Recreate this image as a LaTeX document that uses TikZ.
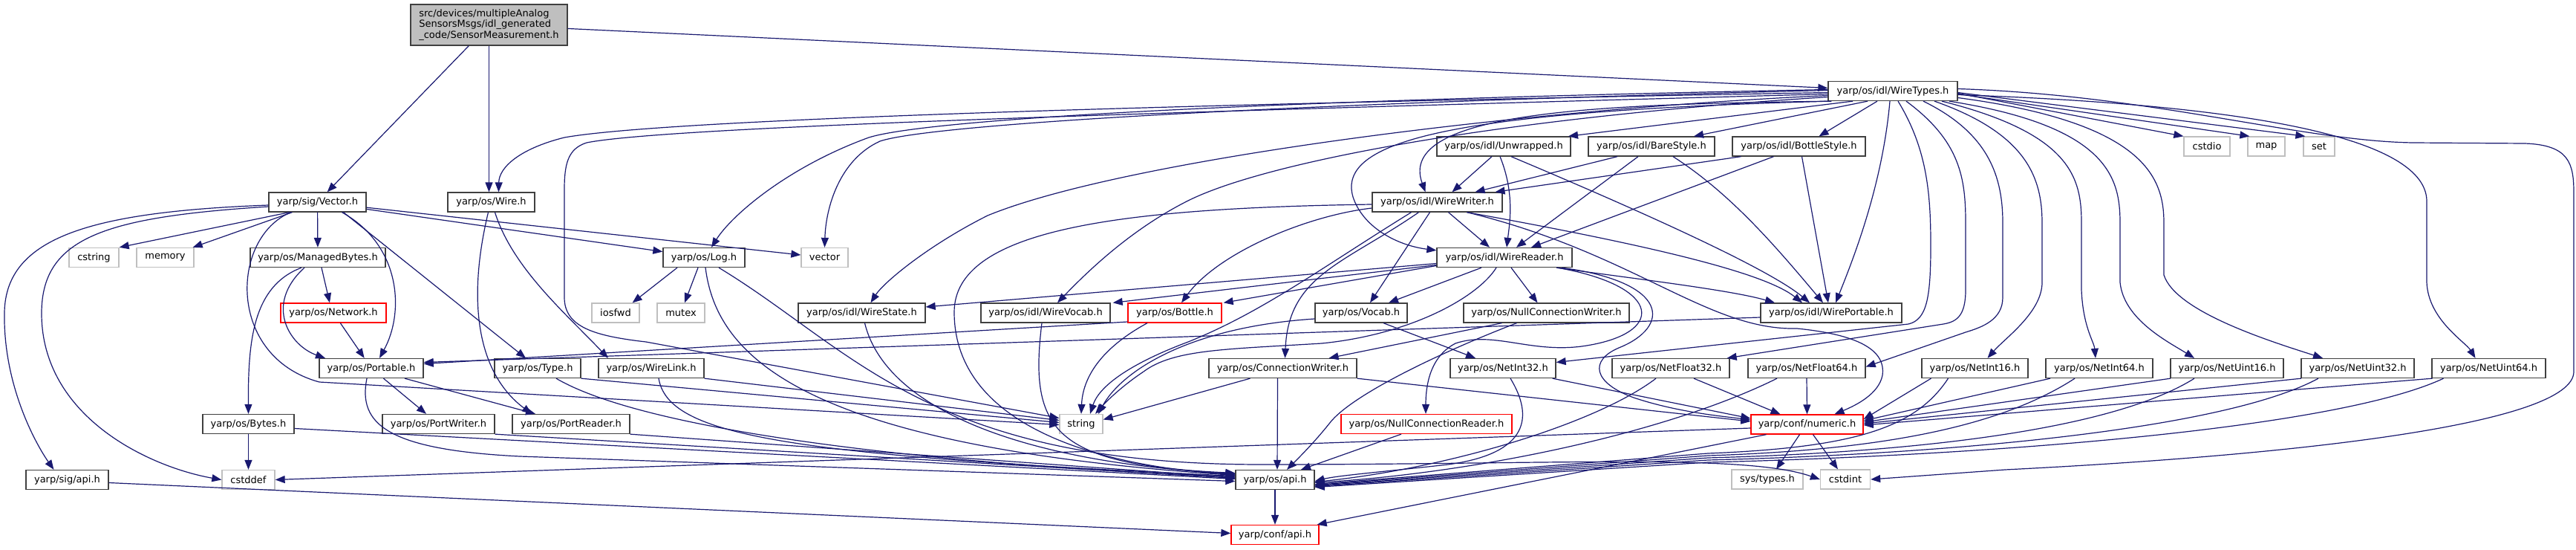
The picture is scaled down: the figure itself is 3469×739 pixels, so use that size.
\documentclass[tikz,border=0pt]{standalone}
\usepackage{fontspec}
\setmainfont{DejaVu Sans}
\usetikzlibrary{arrows.meta}
\definecolor{edgec}{HTML}{191970}
\definecolor{nbord}{HTML}{404040}
\definecolor{gbord}{HTML}{BFBFBF}
\definecolor{rbord}{HTML}{FF0000}
\definecolor{mainfill}{HTML}{BFBFBF}
\newcommand{\gvfont}{\fontsize{13}{14.5}\selectfont}
\begin{document}
\begin{tikzpicture}[x=1pt,y=-1pt,
  nb/.style={draw=nbord, line width=1.3pt, fill=white, minimum height=26pt, inner sep=0pt, font=\gvfont},
  ng/.style={nb, draw=gbord},
  nr/.style={nb, draw=rbord},
  dep/.style={draw=edgec, line width=1.2pt, -{Triangle[length=13pt,width=10pt]}}]
\fill[white] (0,0) rectangle (3469,739);
\useasboundingbox (0,0) rectangle (3469,739);

% ---------- nodes ----------
\node[nb, fill=mainfill, minimum width=211pt, minimum height=55pt, align=left] (main) at (658.5,33.5)
  {src/devices/multipleAnalog\\SensorsMsgs/idl\_generated\\\_code/SensorMeasurement.h};
\node[nb, minimum width=131pt] (vec) at (427.5,272) {yarp/sig/Vector.h};
\node[nb, minimum width=117pt] (wire) at (661.5,272) {yarp/os/Wire.h};
\node[ng, minimum width=67pt] (cstring) at (126.5,346.5) {cstring};
\node[ng, minimum width=77pt] (memory) at (222.5,346.5) {memory};
\node[nb, minimum width=182pt] (mbytes) at (428,346.5) {yarp/os/ManagedBytes.h};
\node[nb, minimum width=110pt] (log) at (948,346.5) {yarp/os/Log.h};
\node[ng, minimum width=63pt] (vector) at (1110.5,346.5) {vector};
\node[nb, minimum width=174pt] (wtypes) at (2549,122.5) {yarp/os/idl/WireTypes.h};
\node[nb, minimum width=180pt] (unwr) at (2025,197) {yarp/os/idl/Unwrapped.h};
\node[nb, minimum width=170pt] (bare) at (2224,197) {yarp/os/idl/BareStyle.h};
\node[nb, minimum width=179pt] (bstyle) at (2422.5,197) {yarp/os/idl/BottleStyle.h};
\node[ng, minimum width=62pt] (cstdio) at (2972,197) {cstdio};
\node[ng, minimum width=50pt] (map) at (3052,197) {map};
\node[ng, minimum width=42pt] (set) at (3123,197) {set};
\node[nb, minimum width=175pt] (wwriter) at (1935.5,272) {yarp/os/idl/WireWriter.h};
\node[nb, minimum width=182pt] (wreader) at (2026,346.5) {yarp/os/idl/WireReader.h};
\node[nr, minimum width=142pt] (network) at (449,421) {yarp/os/Network.h};
\node[ng, minimum width=64pt] (iosfwd) at (829,421) {iosfwd};
\node[ng, minimum width=64pt] (mutex) at (917,421) {mutex};
\node[nb, minimum width=171pt] (wstate) at (1160.5,421) {yarp/os/idl/WireState.h};
\node[nb, minimum width=174pt] (wvocab) at (1408,421) {yarp/os/idl/WireVocab.h};
\node[nr, minimum width=126pt] (bottle) at (1582,421) {yarp/os/Bottle.h};
\node[nb, minimum width=124pt] (vocab) at (1833,421) {yarp/os/Vocab.h};
\node[nb, minimum width=223pt] (ncw) at (2082.5,421) {yarp/os/NullConnectionWriter.h};
\node[nb, minimum width=190pt] (wport) at (2466,421) {yarp/os/idl/WirePortable.h};
\node[nb, minimum width=140pt] (portable) at (500,495.5) {yarp/os/Portable.h};
\node[nb, minimum width=116pt] (type) at (724,495.5) {yarp/os/Type.h};
\node[nb, minimum width=142pt] (wlink) at (877,495.5) {yarp/os/WireLink.h};
\node[nb, minimum width=199pt] (cwriter) at (1727.5,495.5) {yarp/os/ConnectionWriter.h};
\node[nb, minimum width=142pt] (ni32) at (2024,495.5) {yarp/os/NetInt32.h};
\node[nb, minimum width=158pt] (nf32) at (2250,495.5) {yarp/os/NetFloat32.h};
\node[nb, minimum width=158pt] (nf64) at (2433,495.5) {yarp/os/NetFloat64.h};
\node[nb, minimum width=143pt] (ni16) at (2659.5,495.5) {yarp/os/NetInt16.h};
\node[nb, minimum width=144pt] (ni64) at (2827,495.5) {yarp/os/NetInt64.h};
\node[nb, minimum width=152pt] (nu16) at (2999,495.5) {yarp/os/NetUint16.h};
\node[nb, minimum width=152pt] (nu32) at (3175,495.5) {yarp/os/NetUint32.h};
\node[nb, minimum width=153pt] (nu64) at (3351.5,495.5) {yarp/os/NetUint64.h};
\node[nb, minimum width=123pt] (bytes) at (334.5,570.5) {yarp/os/Bytes.h};
\node[nb, minimum width=151pt] (pwriter) at (590.5,570.5) {yarp/os/PortWriter.h};
\node[nb, minimum width=158pt] (preader) at (769,570.5) {yarp/os/PortReader.h};
\node[ng, minimum width=58pt] (string) at (1456,570.5) {string};
\node[nr, minimum width=230pt] (ncr) at (1921,570.5) {yarp/os/NullConnectionReader.h};
\node[nr, minimum width=151pt] (numeric) at (2433.5,571) {yarp/conf/numeric.h};
\node[nb, minimum width=111pt] (sigapi) at (90.5,645.5) {yarp/sig/api.h};
\node[ng, minimum width=71pt] (cstddef) at (334.5,645.5) {cstddef};
\node[nb, minimum width=106pt] (osapi) at (1717,645.5) {yarp/os/api.h};
\node[ng, minimum width=96pt] (systypes) at (2380,645) {sys/types.h};
\node[ng, minimum width=67pt] (cstdint) at (2485,645) {cstdint};
\node[nr, minimum width=118pt] (confapi) at (1717,719.5) {yarp/conf/api.h};

% ---------- main ----------
\draw[dep] (main) -- (vec);
\draw[dep] (main.south) -- ([xshift=-3pt]wire.north);
\draw[dep] (main) -- (wtypes);

% ---------- Vector.h ----------
\draw[dep] ([xshift=-38pt]vec.south) -- (cstring.north east);
\draw[dep] ([xshift=-34pt]vec.south) -- ([xshift=-2pt]memory.north east);
\draw[dep] (vec) -- (mbytes);
\draw[dep] (vec) -- (log);
\draw[dep] (vec) -- (vector);
\draw[dep] ([yshift=-4pt]vec.west) .. controls (120,285) and (8,320) .. (6,420) .. controls (4,520) and (50,600) .. ([xshift=-18pt]sigapi.north);
\draw[dep] ([yshift=-6pt]vec.west) .. controls (140,292) and (57,320) .. (56,420) .. controls (55,560) and (200,628) .. (cstddef.west);
\draw[dep] ([xshift=-36pt]vec.south) .. controls (310,320) and (305,480) .. (430,514) -- ([yshift=-1pt]string.west);
\draw[dep] ([xshift=33pt]vec.south) .. controls (540,330) and (545,420) .. ([xshift=11pt]portable.north);
\draw[dep] ([xshift=35pt]vec.south) -- ([xshift=-16pt]type.north);

% ---------- Wire.h ----------
\draw[dep] ([xshift=-4pt]wire.south) .. controls (630,400) and (640,500) .. ([xshift=-53pt]preader.north);
\draw[dep] ([xshift=5pt]wire.south) .. controls (690,360) and (760,420) .. ([xshift=-58pt]wlink.north);

% ---------- ManagedBytes / Network ----------
\draw[dep] ([xshift=-22pt]mbytes.south) .. controls (340,385) and (334,460) .. (bytes.north);
\draw[dep] ([xshift=-18pt]mbytes.south) .. controls (355,410) and (390,465) .. ([xshift=-62pt]portable.north);
\draw[dep] ([xshift=5pt]mbytes.south) -- ([xshift=-5pt]network.north);
\draw[dep] (network) -- (portable);

% ---------- Portable / Bytes / Port* ----------
\draw[dep] (portable) -- (pwriter);
\draw[dep] ([xshift=45pt]portable.south) -- ([xshift=-48pt]preader.north);
\draw[dep] ([xshift=-6pt]portable.south) .. controls (482,570) and (520,605) .. (700,614) -- ([yshift=-2pt]osapi.west);
\draw[dep] (bytes) -- (cstddef);
\draw[dep] ([yshift=-6pt]bytes.east) -- ([yshift=1pt]osapi.west);
\draw[dep] (pwriter.south east) -- ([yshift=2pt]osapi.west);
\draw[dep] (preader.south east) -- ([yshift=3pt]osapi.west);

% ---------- Type / WireLink ----------
\draw[dep] (type.south east) -- ([yshift=2pt]string.west);
\draw[dep] ([xshift=25pt]type.south) .. controls (870,580) and (1250,625) .. ([yshift=4pt]osapi.west);
\draw[dep] (wlink.south east) -- ([yshift=5pt]string.west);
\draw[dep] ([xshift=10pt]wlink.south) .. controls (900,585) and (1050,612) .. ([yshift=5pt]osapi.west);

% ---------- Log.h ----------
\draw[dep] ([xshift=-36pt]log.south) -- ([xshift=-10pt]iosfwd.north east);
\draw[dep] ([xshift=-8pt]log.south) -- ([xshift=5pt]mutex.north);
\draw[dep] ([xshift=2pt]log.south) .. controls (965,480) and (1080,600) .. ([yshift=6pt]osapi.west);
\draw[dep] ([xshift=20pt]log.south) .. controls (1150,470) and (1250,625) .. (1700,625) .. controls (2100,625) and (2350,610) .. (cstdint.west);

% ---------- WireTypes.h ----------
\draw[dep] ([yshift=-2pt]wtypes.west) .. controls (1600,140) and (900,160) .. (760,185) .. controls (700,200) and (672,225) .. ([xshift=10pt]wire.north);
\draw[dep] ([yshift=-4pt]wtypes.west) .. controls (1600,150) and (900,170) .. (790,192) .. controls (765,200) and (760,220) .. (760,255) -- (760,400) .. controls (760,440) and (800,452) .. (870,460) -- ([yshift=8pt]string.west);
\draw[dep] ([yshift=2pt]wtypes.west) .. controls (1700,135) and (1250,160) .. (1170,185) .. controls (1060,225) and (985,290) .. ([xshift=10pt]log.north);
\draw[dep] ([yshift=1pt]wtypes.west) .. controls (1700,140) and (1250,168) .. (1185,190) .. controls (1130,215) and (1112,280) .. (vector.north);
\draw[dep] ([yshift=-6pt]wtypes.west) .. controls (2000,150) and (1500,220) .. (1330,290) .. controls (1250,330) and (1190,380) .. ([xshift=12pt]wstate.north);
\draw[dep] ([yshift=-8pt]wtypes.west) .. controls (2000,160) and (1700,220) .. (1600,270) .. controls (1520,310) and (1460,370) .. ([xshift=16pt]wvocab.north);
\draw[dep] ([xshift=5pt]wtypes.south west) .. controls (2150,140) and (1880,150) .. ([xshift=-16pt]wwriter.north);
\draw[dep] ([xshift=2pt]wtypes.south west) .. controls (1950,150) and (1800,190) .. (1822,265) .. controls (1835,305) and (1880,330) .. ([yshift=-4pt]wreader.north west);
\draw[dep] ([xshift=-54pt]wtypes.south) -- ([xshift=87pt]unwr.north);
\draw[dep] ([xshift=-34pt]wtypes.south) -- ([xshift=57pt]bare.north);
\draw[dep] ([xshift=-21pt]wtypes.south) -- ([xshift=27pt]bstyle.north);
\draw[dep] ([xshift=-4pt]wtypes.south) .. controls (2535,250) and (2495,350) .. ([xshift=6pt]wport.north);
\draw[dep] ([yshift=-3pt]wtypes.east) -- (cstdio.north west);
\draw[dep] ([yshift=-4pt]wtypes.east) -- ([xshift=3pt]map.north west);
\draw[dep] ([yshift=-2pt]wtypes.east) -- ([xshift=3pt]set.north west);
\draw[dep] ([xshift=7pt]wtypes.south) .. controls (2595,200) and (2600,260) .. (2600,330) .. controls (2600,400) and (2595,430) .. (2570,436) -- ([yshift=8pt]ni32.east);
\draw[dep] ([xshift=18pt]wtypes.south) .. controls (2640,190) and (2647,240) .. (2647,300) -- (2647,390) .. controls (2647,425) and (2635,433) .. (2617,436) -- ([xshift=-4pt]nf32.north east);
\draw[dep] ([xshift=41pt]wtypes.south) .. controls (2680,180) and (2697,240) .. (2697,300) -- (2697,400) .. controls (2697,430) and (2670,440) .. (2647,447) -- ([yshift=2pt]nf64.east);
\draw[dep] ([xshift=56pt]wtypes.south) .. controls (2730,180) and (2750,240) .. (2750,300) -- (2750,380) .. controls (2750,420) and (2700,455) .. ([xshift=17pt]ni16.north);
\draw[dep] ([xshift=66pt]wtypes.south) .. controls (2790,180) and (2803,240) .. (2803,300) -- (2803,390) .. controls (2805,440) and (2820,460) .. ([xshift=-5pt]ni64.north);
\draw[dep] ([xshift=76pt]wtypes.south) .. controls (2840,170) and (2855,240) .. (2855,300) -- (2855,380) .. controls (2860,430) and (2920,460) .. ([xshift=-44pt]nu16.north);
\draw[dep] ([yshift=-9pt]wtypes.east) .. controls (2890,165) and (2914,240) .. (2914,300) -- (2914,370) .. controls (2930,420) and (3060,460) .. ([xshift=-47pt]nu32.north);
\draw[dep] ([yshift=-5pt]wtypes.east) .. controls (3000,140) and (3266,180) .. (3268,270) -- (3268,380) .. controls (3270,430) and (3320,460) .. ([xshift=-18pt]nu64.north);
\draw[dep] ([yshift=3pt]wtypes.east) .. controls (2900,128) and (3100,190) .. (3250,192) -- (3400,193) .. controls (3460,195) and (3466,220) .. (3466,260) -- (3466,500) .. controls (3466,570) and (3100,612) .. (2700,632) -- (cstdint.east);

% ---------- Unwrapped / BareStyle / BottleStyle ----------
\draw[dep] ([xshift=-16pt]unwr.south) -- ([xshift=20pt]wwriter.north);
\draw[dep] ([xshift=-5pt]unwr.south) .. controls (2040,260) and (2033,300) .. ([xshift=3pt]wreader.north);
\draw[dep] ([xshift=10pt]unwr.south) .. controls (2200,280) and (2380,360) .. ([xshift=-29pt]wport.north);
\draw[dep] ([xshift=-46pt]bare.south) -- ([xshift=51pt]wwriter.north);
\draw[dep] ([xshift=-18pt]bare.south) -- ([xshift=16pt]wreader.north);
\draw[dep] ([xshift=29pt]bare.south) .. controls (2330,260) and (2390,330) .. ([xshift=-11pt]wport.north);
\draw[dep] ([xshift=-78pt]bstyle.south) -- ([xshift=78pt]wwriter.north);
\draw[dep] ([xshift=-34pt]bstyle.south) -- ([xshift=36pt]wreader.north);
\draw[dep] ([xshift=4pt]bstyle.south) -- ([xshift=-4pt]wport.north);

% ---------- WireWriter.h ----------
\draw[dep] ([xshift=15pt]wwriter.south) -- ([xshift=-20pt]wreader.north);
\draw[dep] ([xshift=40pt]wwriter.south) .. controls (2250,335) and (2380,370) .. ([xshift=-39pt]wport.north);
\draw[dep] ([yshift=-8pt]wwriter.west) .. controls (1760,290) and (1640,340) .. ([xshift=9pt]bottle.north);
\draw[dep] ([yshift=-3pt]wwriter.west) .. controls (1500,280) and (1285,310) .. (1285,420) .. controls (1285,560) and (1450,625) .. ([yshift=7pt]osapi.west);
\draw[dep] ([xshift=-10pt]wwriter.south) -- ([xshift=12pt]vocab.north);
\draw[dep] ([xshift=-35pt]wwriter.south) .. controls (1780,360) and (1700,420) .. (1600,460) .. controls (1520,490) and (1480,520) .. ([xshift=12pt]string.north);
\draw[dep] ([xshift=-25pt]wwriter.south) .. controls (1810,355) and (1735,370) .. ([xshift=3pt]cwriter.north);
\draw[dep] ([xshift=40pt]wwriter.south) .. controls (2200,340) and (2300,445) .. (2420,442) .. controls (2500,450) and (2540,470) .. (2535,505) .. controls (2530,530) and (2500,545) .. ([xshift=37pt]numeric.north);

% ---------- WireReader.h ----------
\draw[dep] ([yshift=-8pt]wreader.west) -- ([yshift=8pt]wstate.east);
\draw[dep] ([yshift=-10pt]wreader.west) -- ([xshift=3pt]wvocab.north east);
\draw[dep] ([yshift=-11pt]wreader.west) -- ([xshift=2pt]bottle.north east);
\draw[dep] ([xshift=-31pt]wreader.south) -- ([xshift=37pt]vocab.north);
\draw[dep] ([xshift=-11pt]wreader.south) .. controls (1990,400) and (1900,450) .. (1780,462) .. controls (1650,470) and (1580,470) .. (1540,500) .. controls (1510,520) and (1490,540) .. ([xshift=19pt]string.north);
\draw[dep] ([xshift=9pt]wreader.south) -- ([xshift=-12pt]ncw.north);
\draw[dep] ([xshift=70pt]wreader.south) .. controls (2200,375) and (2330,390) .. ([xshift=-76pt]wport.north);
\draw[dep] ([xshift=71pt]wreader.south) .. controls (2240,385) and (2245,450) .. (2130,466) .. controls (2060,475) and (2010,445) .. (1960,462) .. controls (1925,480) and (1920,520) .. ([xshift=-1pt]ncr.north);
\draw[dep] ([xshift=77pt]wreader.south) .. controls (2250,380) and (2250,440) .. (2180,468) .. controls (2140,485) and (2145,515) .. (2200,535) .. controls (2260,555) and (2320,560) .. ([yshift=6pt]numeric.west);

% ---------- second-level headers ----------
\draw[dep] ([yshift=-6pt]wport.west) -- ([yshift=8pt]portable.east);
\draw[dep] ([yshift=-12pt]bottle.west) -- ([yshift=6pt]portable.east);
\draw[dep] ([xshift=-37pt]bottle.south) .. controls (1480,470) and (1458,510) .. (string.north);
\draw[dep] ([xshift=4pt]wstate.south) .. controls (1190,540) and (1350,620) .. ([yshift=8pt]osapi.west);
\draw[dep] ([xshift=-5pt]wvocab.south) .. controls (1385,580) and (1420,625) .. ([yshift=9pt]osapi.west);
\draw[dep] ([xshift=30pt]vocab.south) -- ([xshift=-37pt]ni32.north);
\draw[dep] ([yshift=-8pt]vocab.west) .. controls (1600,440) and (1510,500) .. ([xshift=23pt]string.north);
\draw[dep] ([xshift=-60pt]ncw.south) -- ([xshift=62pt]cwriter.north);
\draw[dep] ([xshift=-40pt]ncw.south) .. controls (1950,470) and (1820,530) .. (1790,570) .. controls (1770,595) and (1750,615) .. ([xshift=16pt]osapi.north);
\draw[dep] ([xshift=-44pt]cwriter.south) -- ([yshift=6pt]string.east);
\draw[dep] ([xshift=-7pt]cwriter.south) -- ([xshift=3pt]osapi.north);
\draw[dep] (cwriter.south east) -- ([yshift=4pt]numeric.west);
\draw[dep] ([xshift=-34pt]ncr.south) -- ([xshift=35pt]osapi.north);

% ---------- Net* ----------
\draw[dep] ([xshift=-5pt]ni32.south east) -- ([yshift=8pt]numeric.west);
\draw[dep] ([xshift=10pt]ni32.south) .. controls (2065,560) and (2060,610) .. (1950,625) .. controls (1860,635) and (1800,640) .. ([yshift=-2pt]osapi.east);
\draw[dep] ([xshift=31pt]nf32.south) -- ([xshift=-36pt]numeric.north);
\draw[dep] ([xshift=-20pt]nf32.south) .. controls (2150,570) and (1950,630) .. ([yshift=-3pt]osapi.east);
\draw[dep] (nf64.south) -- (numeric.north);
\draw[dep] ([xshift=-40pt]nf64.south) .. controls (2250,580) and (2000,635) .. ([yshift=-4pt]osapi.east);
\draw[dep] ([xshift=-59pt]ni16.south) -- ([yshift=7pt]numeric.east);
\draw[dep] ([xshift=-36pt]ni16.south) .. controls (2580,575) and (2500,602) .. (2300,610) -- ([yshift=-6pt]osapi.east);
\draw[dep] ([xshift=-66pt]ni64.south) -- ([yshift=5pt]numeric.east);
\draw[dep] ([xshift=-33pt]ni64.south) .. controls (2700,570) and (2550,605) .. (2300,613) -- ([yshift=-7pt]osapi.east);
\draw[dep] ([xshift=-76pt]nu16.south) -- ([yshift=3pt]numeric.east);
\draw[dep] ([xshift=-44pt]nu16.south) .. controls (2850,575) and (2600,608) .. (2300,616) -- ([yshift=-8pt]osapi.east);
\draw[dep] ([xshift=-76pt]nu32.south) -- ([yshift=1pt]numeric.east);
\draw[dep] ([xshift=-53pt]nu32.south) .. controls (3000,575) and (2650,610) .. (2300,619) -- ([yshift=-9pt]osapi.east);
\draw[dep] ([xshift=-76pt]nu64.south) -- ([yshift=-1pt]numeric.east);
\draw[dep] ([xshift=-61pt]nu64.south) .. controls (3150,575) and (2700,612) .. (2300,622) -- ([yshift=-10pt]osapi.east);

% ---------- numeric / api ----------
\draw[dep] ([xshift=-10pt]numeric.south) -- ([xshift=12pt]systypes.north);
\draw[dep] ([xshift=8pt]numeric.south) -- ([xshift=-10pt]cstdint.north);
\draw[dep] ([yshift=-5pt]numeric.west) -- (cstddef.east);
\draw[dep] ([xshift=-55pt]numeric.south) -- ([xshift=-3pt]confapi.north east);
\draw[dep] (osapi) -- (confapi);
\draw[dep] ([yshift=-4pt]sigapi.east) -- ([yshift=2pt]confapi.west);
\end{tikzpicture}
\end{document}
